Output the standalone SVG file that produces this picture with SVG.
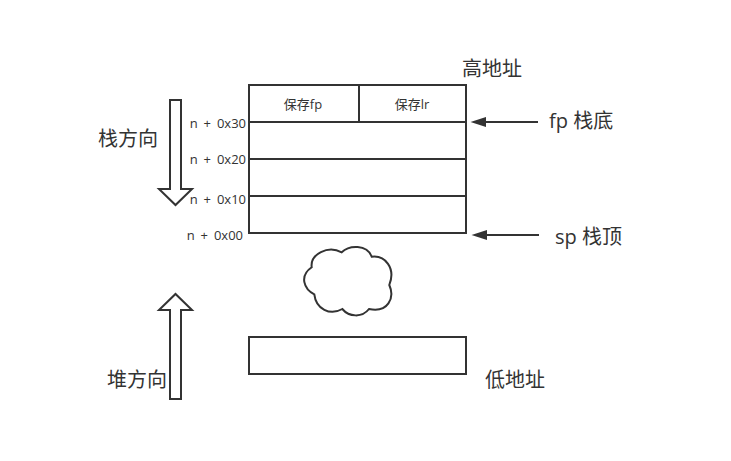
<svg xmlns="http://www.w3.org/2000/svg" width="731" height="461" viewBox="0 0 731 461">
<style>
text{font-family:"Open Sans","Noto Sans CJK SC",sans-serif;fill:#333}
.s{fill:#fff;stroke:#333;stroke-width:2}
.l{fill:none;stroke:#333;stroke-width:2}
.a{font-size:13px;text-anchor:end;word-spacing:2.500px}
.c{font-size:13px;text-anchor:middle}
.b{font-size:20px}
</style>
<defs><marker id="ah" markerUnits="userSpaceOnUse" markerWidth="16" markerHeight="12" refX="0" refY="6" orient="auto" overflow="visible"><path d="M0 1L15.500 6L0 11Z" fill="#333"/></marker></defs>
<rect width="731" height="461" fill="#fff"/>
<g id="stack">
<rect class="s" x="249" y="85" width="217" height="148"/>
<path class="l" d="M249 122H466M249 159H466M249 196H466M359 85V122"/>
<text class="c" x="303" y="109">保存fp</text>
<text class="c" x="412" y="109">保存lr</text>
</g>
<g id="heap-block"><rect class="s" x="249" y="337" width="217" height="37"/></g>
<g id="cloud"><path class="s" d="M341.700 252.300C349 245 367 244 371.700 256.700C385 255 396 268 389.300 285C395 298 388 313 369 309C362 318 349 317 342.300 309C330 316 316 309 314.300 294.300C304 289 299 276 311.700 267.300C310 254 328 245 341.700 252.300Z"/></g>
<g id="stack-arrow"><path class="s" d="M170 100H181V189H192L175.500 205L159 189H170Z"/></g>
<g id="heap-arrow"><path class="s" d="M170 399H181V310H192L175.500 294L159 310H170Z"/></g>
<g id="connectors">
<path class="l" d="M538 122H486" marker-end="url(#ah)"/>
<path class="l" d="M539 235H487" marker-end="url(#ah)"/>
</g>
<g id="labels">
<text class="a" x="246" y="128">n + 0x30</text>
<text class="a" x="246" y="164">n + 0x20</text>
<text class="a" x="246" y="204">n + 0x10</text>
<text class="a" x="243" y="240">n + 0x00</text>
<text class="b" x="462" y="76">高地址</text>
<text class="b" x="98" y="146">栈方向</text>
<text class="b" x="107" y="387">堆方向</text>
<text class="b" x="485" y="387">低地址</text>
<text class="b" x="549" y="128">fp 栈底</text>
<text class="b" x="555" y="244">sp 栈顶</text>
</g>
</svg>
